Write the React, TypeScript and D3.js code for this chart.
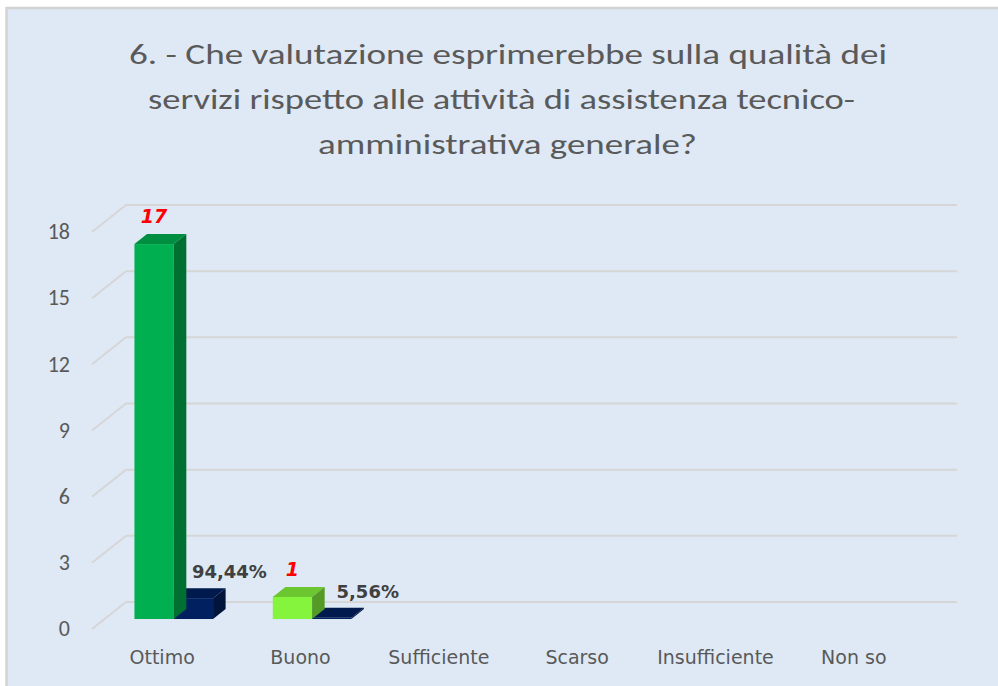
import React from "react";
import * as d3 from "d3";

// chart values
const titleLines = [
  "6. - Che valutazione esprimerebbe sulla qualità dei",
  "servizi rispetto alle attività di assistenza tecnico-",
  "amministrativa generale?",
];
const categories = ["Ottimo", "Buono", "Sufficiente", "Scarso", "Insufficiente", "Non so"];
const counts = [17, 1, 0, 0, 0, 0];
const shares = [0.9444, 0.0556, 0, 0, 0, 0];
const yTicks = [0, 3, 6, 9, 12, 15, 18];
const countColors = ["#00b050", "#84f53c", "#00b050", "#00b050", "#00b050", "#00b050"];
const shareColor = "#002060";

const W = 998;
const H = 686;
// depth of the 3d floor (front -> back wall)
const DX = 34;
const DY = -27;
const D0 = 0.37;
const D1 = 0.74;

// title line boxes (left edge, width)
const titleLeft = [129, 148, 318];
const titleWidths = [758, 707, 379];

function Bar({ x, w, y0, y1, color }: { x: number; w: number; y0: number; y1: number; color: string }) {
  const sx = D0 * DX, sy = D0 * DY;
  const bx = (D1 - D0) * DX, by = (D1 - D0) * DY;
  const fl = x + sx, fr = x + w + sx;
  const ft = y1 + sy, fb = y0 + sy;
  const c = d3.color(color)!;
  const top = c.darker(0.6).toString();
  const side = c.darker(1.3).toString();
  return (
    <g>
      <rect x={fl} y={ft} width={fr - fl} height={fb - ft} fill={color} />
      <polygon
        points={`${fl},${ft} ${fr},${ft} ${fr + bx},${ft + by} ${fl + bx},${ft + by}`}
        fill={top}
      />
      <polygon
        points={`${fr},${ft} ${fr + bx},${ft + by} ${fr + bx},${fb + by} ${fr},${fb}`}
        fill={side}
      />
    </g>
  );
}

export default function App() {
  const y = d3.scaleLinear().domain([0, 18]).range([629, 232]);
  const x0 = d3.scaleBand<string>().domain(categories).range([92, 922]);
  const x1 = d3
    .scaleBand<string>()
    .domain(["count", "share"])
    .range([0, x0.bandwidth()])
    .paddingOuter(0.76);
  const pct = (v: number) => d3.format(".2%")(v).replace(".", ",");

  const gridX1 = x0.range()[0] + DX;
  const gridX2 = 957;

  return (
    <svg width={W} height={H} style={{ position: "absolute", left: 0, top: 0 }}>
      <rect x={0} y={0} width={W} height={H} fill="#ffffff" />
      <rect x={6} y={7} width={W - 6} height={H - 7} fill="#dee9f5" />
      <line x1={6} y1={8} x2={W} y2={8} stroke="#d3d3d3" strokeWidth={2.5} />
      <line x1={6.5} y1={7} x2={6.5} y2={H} stroke="#d3d3d3" strokeWidth={2.5} />

      <g fontFamily="'Liberation Sans Narrow', Carlito, 'Open Sans', sans-serif" fill="#5a5a5a" fontSize={29}>
        {titleLines.map((t, i) => (
          <text
            key={i}
            x={titleLeft[i]}
            y={63.5 + i * 45}
            textLength={titleWidths[i]}
            lengthAdjust="spacingAndGlyphs"
          >
            {t}
          </text>
        ))}
      </g>

      {/* gridlines: side wall diagonal + back wall */}
      <g stroke="#d6d6d6" strokeWidth={2} fill="none">
        {yTicks.map((t) => (
          <path
            key={t}
            d={`M${x0.range()[0]},${y(t)} L${gridX1},${y(t) + DY} L${gridX2},${y(t) + DY}`}
          />
        ))}
      </g>

      <g fontFamily="Carlito, 'Liberation Sans', Arial, sans-serif" fontSize={22} fill="#595959" textAnchor="end">
        {yTicks.map((t) => (
          <text key={t} x={70} y={y(t)} dy="0.33em">
            {t}
          </text>
        ))}
      </g>

      {categories.map((c, i) => {
        const base = x0(c)!;
        const xc = base + x1("count")!;
        const xs = base + x1("share")!;
        const bw = x1.bandwidth();
        const sx = D0 * DX;
        const backTop = (v: number) => y(v) + D1 * DY;
        return (
          <g key={c}>
            {shares[i] > 0 && (
              <Bar x={xs} w={bw} y0={y(0)} y1={y(shares[i])} color={shareColor} />
            )}
            {counts[i] > 0 && (
              <Bar x={xc} w={bw} y0={y(0)} y1={y(counts[i])} color={countColors[i]} />
            )}
            {counts[i] > 0 && (
              <text
                x={xc + sx + bw / 2}
                y={backTop(counts[i]) - 11}
                textAnchor="middle"
                fontFamily="'DejaVu Sans', sans-serif"
                fontSize={19}
                fontWeight="bold"
                fontStyle="italic"
                fill="#ff0000"
              >
                {counts[i]}
              </text>
            )}
            {shares[i] > 0 && (
              <text
                x={xs + sx + bw / 2 + 36}
                y={backTop(shares[i]) - 10}
                textAnchor="middle"
                fontFamily="'DejaVu Sans', sans-serif"
                fontSize={18}
                fontWeight="bold"
                fill="#404040"
              >
                {pct(shares[i])}
              </text>
            )}
            <text
              x={base + x0.bandwidth() / 2 + 1}
              y={664}
              textAnchor="middle"
              fontFamily="'DejaVu Sans', sans-serif"
              fontSize={19}
              fill="#595959"
            >
              {c}
            </text>
          </g>
        );
      })}
    </svg>
  );
}
